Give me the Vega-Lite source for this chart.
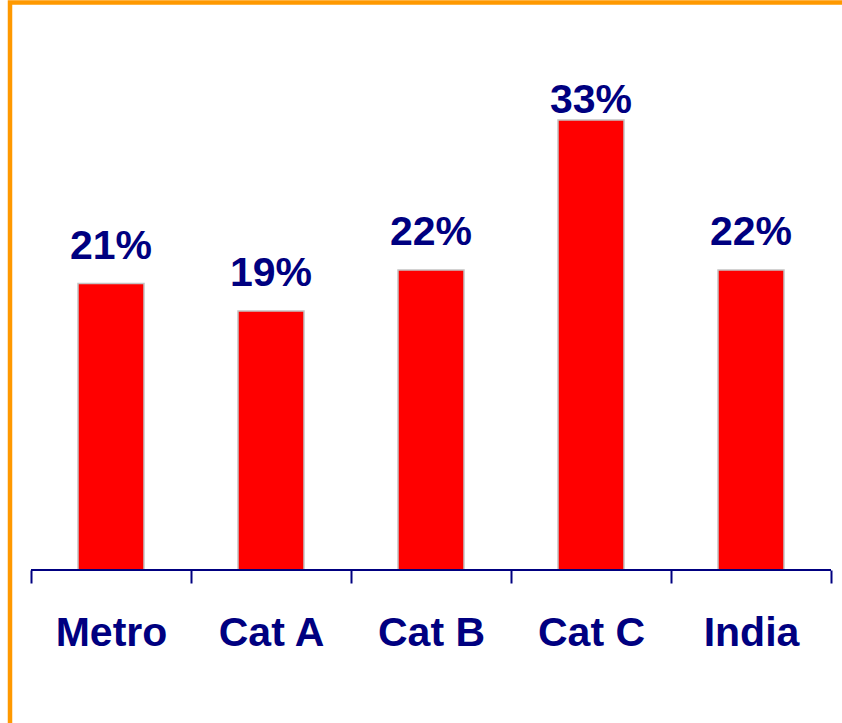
{
  "$schema": "https://vega.github.io/schema/vega-lite/v6.json",
  "width": 842,
  "height": 737.5,
  "padding": {"left": 10, "top": 2.5, "right": 0, "bottom": 0},
  "autosize": {"type": "none"},
  "background": "white",
  "config": {"view": {"stroke": "#FF9900", "strokeWidth": 4.5}},
  "datasets": {
    "bars": [
      {"cat": "Metro", "v": 0.21},
      {"cat": "Cat A", "v": 0.19},
      {"cat": "Cat B", "v": 0.22},
      {"cat": "Cat C", "v": 0.33},
      {"cat": "India", "v": 0.22}
    ],
    "baseline": [{"cat": "Metro", "cat2": "India"}]
  },
  "layer": [
    {
      "data": {"name": "bars"},
      "mark": {"type": "bar", "color": "#FF0000", "stroke": "#C4C4C4", "strokeWidth": 1.5, "width": {"band": 0.4125}},
      "encoding": {
        "x": {
          "field": "cat", "type": "nominal", "sort": null,
          "scale": {"domain": ["Metro", "Cat A", "Cat B", "Cat C", "India"], "paddingInner": 0, "paddingOuter": 0.13125},
          "axis": {
            "title": null, "domain": false, "offset": -170,
            "ticks": true, "tickBand": "extent", "tickSize": 13, "tickColor": "#000080", "tickWidth": 2,
            "labelFont": "Liberation Sans", "labelFontWeight": "bold", "labelFontSize": 41, "labelColor": "#000080",
            "labelBaseline": "alphabetic", "labelPadding": 62, "labelAngle": 0, "grid": false
          }
        },
        "y": {"field": "v", "type": "quantitative", "scale": {"domain": [-0.12466, 0.41613], "nice": false, "zero": false}, "axis": null},
        "y2": {"datum": 0}
      }
    },
    {
      "data": {"name": "bars"},
      "transform": [{"filter": "datum.v < 0.3"}],
      "mark": {"type": "text", "font": "Liberation Sans", "fontWeight": "bold", "fontSize": 41, "color": "#000080", "baseline": "alphabetic", "dy": -25},
      "encoding": {
        "x": {"field": "cat", "type": "nominal", "sort": null},
        "y": {"field": "v", "type": "quantitative"},
        "text": {"field": "v", "type": "quantitative", "format": ".0%"}
      }
    },
    {
      "data": {"name": "bars"},
      "transform": [{"filter": "datum.v >= 0.3"}],
      "mark": {"type": "text", "font": "Liberation Sans", "fontWeight": "bold", "fontSize": 41, "color": "#000080", "baseline": "alphabetic", "dy": -7},
      "encoding": {
        "x": {"field": "cat", "type": "nominal", "sort": null},
        "y": {"field": "v", "type": "quantitative"},
        "text": {"field": "v", "type": "quantitative", "format": ".0%"}
      }
    },
    {
      "data": {"name": "baseline"},
      "mark": {"type": "rule", "color": "#000080", "strokeWidth": 2},
      "encoding": {
        "x": {"field": "cat", "type": "nominal", "bandPosition": 0},
        "x2": {"field": "cat2", "bandPosition": 1},
        "y": {"datum": 0}
      }
    }
  ]
}
